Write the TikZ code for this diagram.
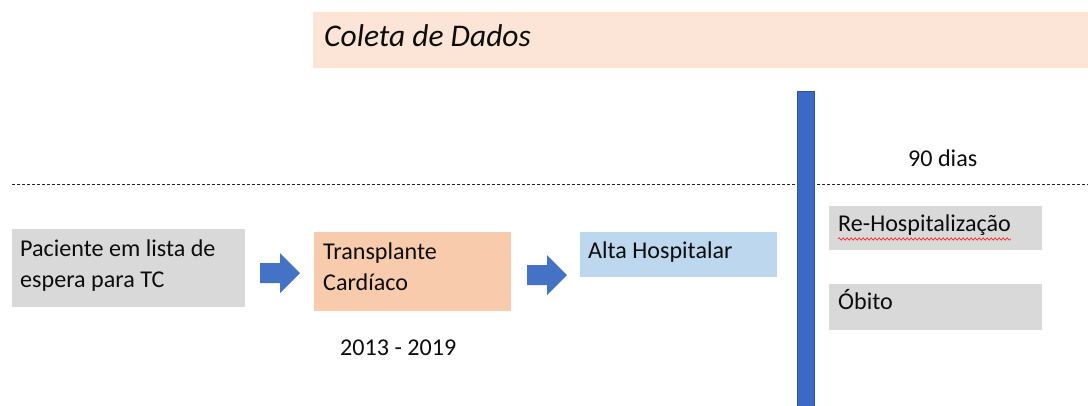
\documentclass[tikz,border=0pt]{standalone}
\usepackage{fontspec}
\setmainfont{Carlito}
\usetikzlibrary{decorations.pathmorphing}
\definecolor{peachlight}{HTML}{FCE4D6}
\definecolor{peach}{HTML}{F8CBAD}
\definecolor{lightblue}{HTML}{BDD7EE}
\definecolor{boxgray}{HTML}{D9D9D9}
\definecolor{arrowblue}{HTML}{4472C4}
\definecolor{barblue}{HTML}{3D69C6}
\definecolor{bardark}{HTML}{2F5597}
\tikzset{
  plainbox/.style={inner sep=0pt, outer sep=0pt, anchor=north west},
  boxtext/.style={font=\fontsize{24.1}{30.5}\selectfont, anchor=base west, inner sep=0pt, align=left, text=black!95},
  blockarrow/.style={fill=arrowblue, draw=none},
}
\begin{document}
\begin{tikzpicture}[x=1pt,y=-1pt]
\useasboundingbox[fill=white] (0,0) rectangle (1088,405);
% top band
\node[plainbox, fill=peachlight, minimum width=775pt, minimum height=56pt] (band) at (313,12) {};
\node[font=\fontsize{31.5}{36}\selectfont\itshape, anchor=base west, inner sep=0pt, text=black!95] (bandtxt) at (324,46) {Coleta de Dados};
% dashed line
\coordinate (dl) at (12,184.5);
\coordinate (dr) at (1088,184.5);
\draw[black!85, line width=1.2pt, dash pattern=on 3pt off 2pt] (dl) -- (dr);
% vertical bar
\node[plainbox, fill=barblue, draw=bardark, line width=0.6pt, minimum width=17pt, minimum height=320pt] (bar) at (797,91) {};
% boxes
\node[plainbox, fill=boxgray, minimum width=233pt, minimum height=78pt] (b1) at (12,229) {};
\node[boxtext] (t1) at (20,287) {Paciente em lista de\\espera para TC};
\node[plainbox, fill=peach, minimum width=197pt, minimum height=79pt] (b2) at (314,232) {};
\node[boxtext] (t2) at (323,290) {Transplante\\Cardíaco};
\node[plainbox, fill=lightblue, minimum width=197pt, minimum height=45pt] (b3) at (580,232) {};
\node[boxtext] (t3) at (588,258) {Alta Hospitalar};
\node[plainbox, fill=boxgray, minimum width=213pt, minimum height=44pt] (b4) at (829,206) {};
\node[boxtext] (t4) at (838,231) {Re-Hospitalização};
\node[plainbox, fill=boxgray, minimum width=213pt, minimum height=46pt] (b5) at (829,284) {};
\node[boxtext] (t5) at (838,309) {Óbito};
% spell-check squiggle
\draw[red!90, line width=0.6pt, decorate, decoration={snake, amplitude=1.2pt, segment length=4pt}] ([yshift=-8pt]t4.base west) -- ([yshift=-8pt]t4.base east);
% labels
\node[boxtext] (years) at (340,355) {2013 - 2019};
\node[boxtext] (days) at (908,166) {90 dias};
% block arrows
\fill[blockarrow] (260,263) -- (280,263) -- (280,253) -- (300,273) -- (280,293) -- (280,283) -- (260,283) -- cycle;
\fill[blockarrow] (527,265) -- (547,265) -- (547,255) -- (567,275) -- (547,295) -- (547,285) -- (527,285) -- cycle;
\end{tikzpicture}
\end{document}
